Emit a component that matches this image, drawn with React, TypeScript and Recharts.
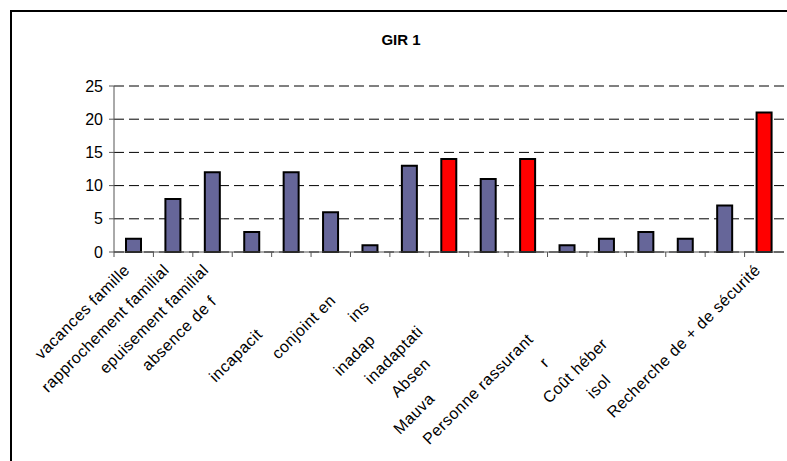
import React from 'react';
import { BarChart, Bar, Cell, XAxis, YAxis, CartesianGrid } from 'recharts';

// full label of each category, and the part of it that is readable in the picture
const categories = [
  'vacances famille',
  'rapprochement familial',
  'epuisement familial',
  'absence de famille',
  'incapacité physique',
  'incapacité psychique',
  'conjoint en foyer',
  'insécurité',
  'inadaptation habitat',
  'inadaptation familiale',
  'Absence de lien familial',
  "Mauvaises conditions d'habitat",
  'Personne rassurante à proximité',
  "rupture de l'aidant",
  'Coût hébergement réduit',
  'isolement géographique',
  'Recherche de + de sécurité',
];

const shownLabels = [
  'vacances famille',
  'rapprochement familial',
  'epuisement familial',
  'absence de f',
  '',
  'incapacit',
  'conjoint en',
  'ins',
  'inadap',
  'inadaptati',
  'Absen',
  'Mauva',
  'Personne rassurant',
  'r',
  'Coût héber',
  'isol',
  'Recherche de + de sécurité',
];

const counts = [2, 8, 12, 3, 12, 6, 1, 13, 14, 11, 14, 1, 2, 3, 2, 7, 21];

const highlighted = ['inadaptation habitat', 'Absence de lien familial', 'Recherche de + de sécurité'];

const yTicks = [0, 5, 10, 15, 20, 25];

const data = categories.map((name, i) => ({ name, value: counts[i] }));

const FONT = "Arial, 'Liberation Sans', sans-serif";
const W = 787;
const H = 461;
const PLOT_LEFT = 114;
const PLOT_RIGHT = 784;
const band = (PLOT_RIGHT - PLOT_LEFT) / categories.length;

function LabelTick({ x, y, payload }: any) {
  const i = categories.indexOf(payload.value);
  const shown = shownLabels[i] ?? '';
  const rest = payload.value.slice(shown.length);
  return (
    <g>
      <line x1={x - band / 2} y1={y} x2={x - band / 2} y2={y + 5} stroke="#555" />
      <text
        transform={`translate(${x - 3},${y + 19}) rotate(-45)`}
        textAnchor="end"
        fontSize={16}
        fontFamily={FONT}
        letterSpacing={0.5}
        fill="#000"
      >
        <tspan>{shown}</tspan>
        <tspan fill="none">{rest}</tspan>
      </text>
    </g>
  );
}

export default function App() {
  return (
    <div style={{ position: 'fixed', left: 0, top: 0, width: W, height: H, overflow: 'hidden', background: '#fff' }}>
      {/* chart frame: only its top and left edges are inside the picture */}
      <div style={{ position: 'absolute', left: 10, top: 10, width: W - 10, height: 2, background: '#000' }} />
      <div style={{ position: 'absolute', left: 10, top: 10, width: 2, height: H - 10, background: '#000' }} />
      <div style={{
        position: 'absolute', left: 0, top: 31, width: 802, textAlign: 'center',
        fontFamily: FONT, fontSize: 15, fontWeight: 'bold', color: '#000',
      }}>
        GIR 1
      </div>
      <div style={{ position: 'absolute', left: 0, top: 0 }}>
        <BarChart width={W} height={H} data={data} margin={{ top: 86, right: W - PLOT_RIGHT, left: 0, bottom: 0 }}>
          <CartesianGrid vertical={false} stroke="#000" strokeDasharray="10 5" />
          <XAxis dataKey="name" interval={0} height={209} tickLine={false} tickSize={0} tickMargin={0}
            stroke="#555" tick={<LabelTick />} />
          <YAxis width={PLOT_LEFT} domain={[0, 25]} ticks={yTicks} tickSize={5} tickMargin={6}
            stroke="#555" tick={{ fill: '#000', fontSize: 16, fontFamily: FONT }} />
          <Bar dataKey="value" barSize={15} stroke="#000" strokeWidth={2} isAnimationActive={false}>
            {data.map(d => (
              <Cell key={d.name} fill={highlighted.includes(d.name) ? '#FF0000' : '#666699'} />
            ))}
          </Bar>
        </BarChart>
      </div>
    </div>
  );
}
